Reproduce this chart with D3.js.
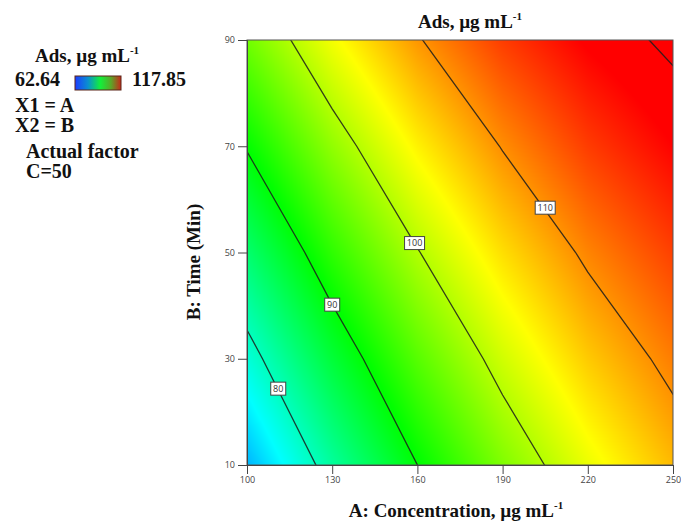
<!DOCTYPE html>
<head>
  <meta charset="utf-8" />
  <script src="https://d3js.org/d3.v7.min.js"></script>
  <style>
    body { margin: 0; background: #fff; }
    .tick text { font-family: "Open Sans", sans-serif; font-size: 9px; fill: #444; }
    .tick line { stroke: #444; }
    .serif { font-family: "Liberation Serif", "Times New Roman", serif; font-weight: bold; fill: #111; }
    .clabel { font-family: "Open Sans", sans-serif; font-size: 9px; fill: #333; }
  </style>
</head>
<body>
<script>
  // concentration (A) and time (B) grid, same as tick values
  var concTicks = [100, 130, 160, 190, 220, 250];
  var timeTicks = [10, 30, 50, 70, 90];

  // Ads at each grid node (one array per time row)
  var adsRow10 = [72.4, 81.8, 90.0, 97.1, 103.0, 107.8];
  var adsRow30 = [78.4, 87.2, 94.9, 101.5, 106.9, 111.1];
  var adsRow50 = [84.3, 92.7, 99.8, 105.8, 110.7, 114.4];
  var adsRow70 = [90.3, 98.1, 104.7, 110.2, 114.6, 117.8];
  var adsRow90 = [96.3, 103.5, 109.7, 114.6, 118.2, 120.7];

  var levels = [80, 90, 100, 110, 120];
  var labelLevels = [80, 90, 100, 110];
  var labelConc = [111, 130, 159, 205];

  var legendMin = 62.64, legendMax = 117.85;

  var width = 681, height = 522;
  var x0 = 247, x1 = 673, yTop = 40, yBot = 465;

  var svg = d3.select("body").append("svg")
    .attr("width", width).attr("height", height);

  var x = d3.scaleLinear().domain([100, 250]).range([x0, x1]);
  var y = d3.scaleLinear().domain([10, 90]).range([yBot, yTop]);

  var grid = [].concat(adsRow10, adsRow30, adsRow50, adsRow70, adsRow90);
  var nx = concTicks.length, ny = timeTicks.length;

  // blue - cyan - green - yellow - red like the design expert palette
  var step = (legendMax - legendMin) / 4;
  var color = d3.scaleLinear()
    .domain([0, 1, 2, 3, 4].map(function (k) { return legendMin + k * step; }))
    .range(["#0000ff", "#00ffff", "#00ff00", "#ffff00", "#ff0000"])
    .clamp(true);

  function adsAt(c, t) {
    var fi = (c - concTicks[0]) / (concTicks[1] - concTicks[0]);
    var fj = (t - timeTicks[0]) / (timeTicks[1] - timeTicks[0]);
    var i = Math.max(0, Math.min(nx - 2, Math.floor(fi)));
    var j = Math.max(0, Math.min(ny - 2, Math.floor(fj)));
    var u = fi - i, v = fj - j;
    var a = grid[j * nx + i], b = grid[j * nx + i + 1];
    var cc = grid[(j + 1) * nx + i], d = grid[(j + 1) * nx + i + 1];
    return (a * (1 - u) + b * u) * (1 - v) + (cc * (1 - u) + d * u) * v;
  }

  // colour raster of the surface
  var w = x1 - x0, h = yBot - yTop;
  var canvas = document.createElement("canvas");
  canvas.width = w; canvas.height = h;
  var ctx = canvas.getContext("2d");
  var img = ctx.createImageData(w, h);
  for (var py = 0; py < h; py++) {
    for (var px = 0; px < w; px++) {
      var col = d3.rgb(color(adsAt(x.invert(x0 + px + 0.5), y.invert(yTop + py + 0.5))));
      var k = (py * w + px) * 4;
      img.data[k] = col.r; img.data[k + 1] = col.g; img.data[k + 2] = col.b; img.data[k + 3] = 255;
    }
  }
  ctx.putImageData(img, 0, 0);

  svg.append("image")
    .attr("x", x0).attr("y", yTop)
    .attr("width", w).attr("height", h)
    .attr("href", canvas.toDataURL());

  svg.append("clipPath").attr("id", "plotclip")
    .append("rect").attr("x", x0).attr("y", yTop).attr("width", w).attr("height", h);

  // contour lines
  var cx = d3.scaleLinear().domain([0.5, nx - 0.5]).range([concTicks[0], concTicks[nx - 1]]);
  var cy = d3.scaleLinear().domain([0.5, ny - 0.5]).range([timeTicks[0], timeTicks[ny - 1]]);
  var proj = d3.geoTransform({
    point: function (px, py) { this.stream.point(x(cx(px)), y(cy(py))); }
  });
  var path = d3.geoPath(proj);
  var contours = d3.contours().size([nx, ny]).thresholds(levels)(grid);

  svg.append("g").attr("clip-path", "url(#plotclip)")
    .selectAll("path").data(contours).join("path")
    .attr("d", path)
    .attr("fill", "none")
    .attr("stroke", "#1c1c1c")
    .attr("stroke-width", 1.3)
    .attr("stroke-opacity", 0.85);

  // frame
  svg.append("rect").attr("x", x0).attr("y", yTop).attr("width", w).attr("height", h)
    .attr("fill", "none").attr("stroke", "#555").attr("stroke-width", 1);

  // contour labels, put on the line at the read concentration
  function timeOnLevel(c, lev) {
    var lo = 10, hi = 90;
    for (var it = 0; it < 40; it++) {
      var mid = (lo + hi) / 2;
      if (adsAt(c, mid) < lev) lo = mid; else hi = mid;
    }
    return (lo + hi) / 2;
  }
  var lab = svg.append("g").selectAll("g").data(labelLevels).join("g")
    .attr("transform", function (d, i) {
      return "translate(" + x(labelConc[i]) + "," + y(timeOnLevel(labelConc[i], d)) + ")";
    });
  lab.append("rect")
    .attr("x", function (d) { return d >= 100 ? -10 : -7.5; })
    .attr("y", -6.5)
    .attr("width", function (d) { return d >= 100 ? 20 : 15; })
    .attr("height", 13)
    .attr("fill", "#fff").attr("stroke", "#444").attr("stroke-width", 1);
  lab.append("text").attr("class", "clabel")
    .attr("text-anchor", "middle").attr("dy", "0.35em")
    .text(function (d) { return d; });

  // axes
  svg.append("g").attr("transform", "translate(" + x0 + ",0)")
    .call(d3.axisLeft(y).tickValues(timeTicks).tickSize(9).tickPadding(3))
    .call(function (g) { g.select(".domain").attr("stroke", "#444"); });
  svg.append("g").attr("transform", "translate(0," + yBot + ")")
    .call(d3.axisBottom(x).tickValues(concTicks).tickSize(9).tickPadding(3))
    .call(function (g) { g.select(".domain").attr("stroke", "#444"); });

  // titles
  var t = svg.append("text").attr("class", "serif").attr("font-size", 19)
    .attr("x", 470).attr("y", 28).attr("text-anchor", "middle");
  t.append("tspan").text("Ads, µg mL");
  t.append("tspan").attr("font-size", 11).attr("dy", -8).text("-1");

  var xt = svg.append("text").attr("class", "serif").attr("font-size", 19)
    .attr("x", 456).attr("y", 517).attr("text-anchor", "middle");
  xt.append("tspan").text("A: Concentration, µg mL");
  xt.append("tspan").attr("font-size", 11).attr("dy", -8).text("-1");

  svg.append("text").attr("class", "serif").attr("font-size", 19)
    .attr("transform", "translate(200,262) rotate(-90)")
    .attr("text-anchor", "middle")
    .text("B: Time (Min)");

  // legend block
  var lt = svg.append("text").attr("class", "serif").attr("font-size", 19)
    .attr("x", 35).attr("y", 62);
  lt.append("tspan").text("Ads, µg mL");
  lt.append("tspan").attr("font-size", 11).attr("dy", -8).text("-1");

  var defs = svg.append("defs");
  var grad = defs.append("linearGradient").attr("id", "legendgrad");
  [["0%", "#1c3cff"], ["28%", "#0a8fd0"], ["55%", "#12f03a"], ["78%", "#5aa828"], ["100%", "#c8281a"]]
    .forEach(function (s) { grad.append("stop").attr("offset", s[0]).attr("stop-color", s[1]); });

  svg.append("text").attr("class", "serif").attr("font-size", 20)
    .attr("x", 15).attr("y", 86).text(legendMin.toFixed(2));
  svg.append("rect").attr("x", 75).attr("y", 76).attr("width", 46).attr("height", 14)
    .attr("fill", "url(#legendgrad)").attr("stroke", "#5a2418").attr("stroke-width", 1);
  svg.append("text").attr("class", "serif").attr("font-size", 20)
    .attr("x", 132).attr("y", 86).text(legendMax.toFixed(2));

  svg.append("text").attr("class", "serif").attr("font-size", 20)
    .attr("x", 15).attr("y", 112).text("X1 = A");
  svg.append("text").attr("class", "serif").attr("font-size", 20)
    .attr("x", 15).attr("y", 132).text("X2 = B");
  svg.append("text").attr("class", "serif").attr("font-size", 20)
    .attr("x", 26).attr("y", 158).text("Actual factor");
  svg.append("text").attr("class", "serif").attr("font-size", 20)
    .attr("x", 26).attr("y", 178).text("C=50");
</script>
</body>
